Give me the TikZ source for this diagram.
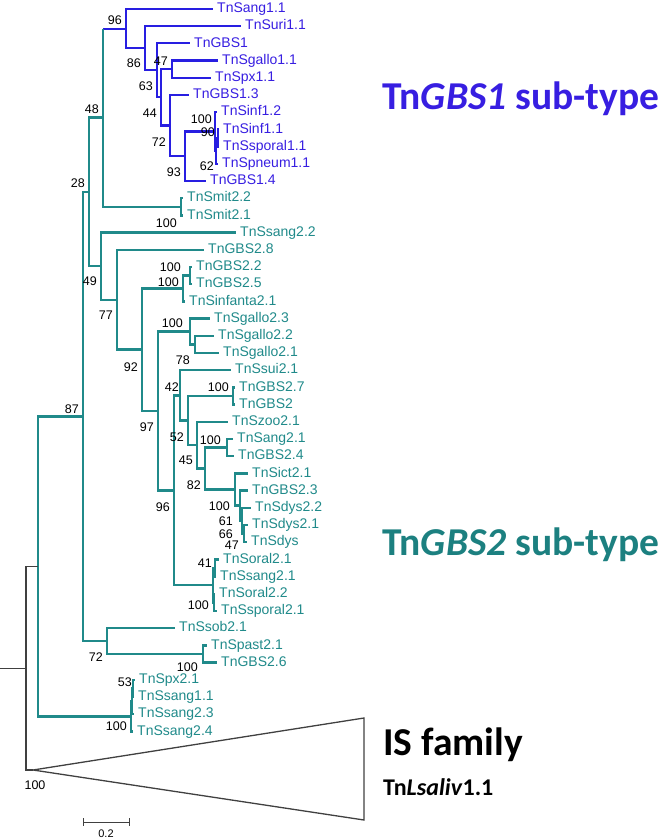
\documentclass[tikz,border=0pt]{standalone}
\usepackage{fontspec}
\setmainfont{Liberation Sans}
\newfontfamily\calib{Carlito}
\usetikzlibrary{calc}
\definecolor{tealc}{RGB}{32,138,138}
\definecolor{tealh}{RGB}{28,128,128}
\definecolor{bluec}{RGB}{40,30,225}
\definecolor{bluet}{RGB}{55,30,225}
\begin{document}
\begin{tikzpicture}[x=1pt,y=-1pt,
  tb/.style={draw=tealc,line width=2.5pt},
  bb/.style={draw=bluec,line width=2.2pt},
  kb/.style={draw=black!75,line width=1.3pt},
  lt/.style={anchor=west,inner xsep=4pt,inner ysep=0pt,text height=10pt,text depth=2.5pt,font=\fontsize{14}{14}\selectfont,text=tealc},
  lb/.style={lt,text=bluet},
  bs/.style={font=\fontsize{12.5}{12.5}\selectfont,inner sep=0pt,anchor=east,text height=9pt,text depth=0pt},
  head/.style={anchor=base west,inner sep=0pt,font=\calib\bfseries\fontsize{39.5}{40}\selectfont}
]
\useasboundingbox (0,0) rectangle (666,840);
% ---------- leaves ----------
\node[lb] (l1) at (213,9) {TnSang1.1};
\node[lb] (l2) at (241,26.2) {TnSuri1.1};
\node[lb] (l3) at (190,43.4) {TnGBS1};
\node[lb] (l4) at (218,60.6) {TnSgallo1.1};
\node[lb] (l5) at (211,77.8) {TnSpx1.1};
\node[lb] (l6) at (189,95) {TnGBS1.3};
\node[lb] (l7) at (217,112.2) {TnSinf1.2};
\node[lb] (l8) at (219,129.4) {TnSinf1.1};
\node[lb] (l9) at (219,146.6) {TnSsporal1.1};
\node[lb] (l10) at (218,163.8) {TnSpneum1.1};
\node[lb] (l11) at (206,181) {TnGBS1.4};
\node[lt] (l12) at (183,198.2) {TnSmit2.2};
\node[lt] (l13) at (183,215.4) {TnSmit2.1};
\node[lt] (l14) at (236,232.6) {TnSsang2.2};
\node[lt] (l15) at (204,249.8) {TnGBS2.8};
\node[lt] (l16) at (192,267) {TnGBS2.2};
\node[lt] (l17) at (192,284.2) {TnGBS2.5};
\node[lt] (l18) at (185,301.4) {TnSinfanta2.1};
\node[lt] (l19) at (210,318.6) {TnSgallo2.3};
\node[lt] (l20) at (214,335.8) {TnSgallo2.2};
\node[lt] (l21) at (219,353) {TnSgallo2.1};
\node[lt] (l22) at (231,370.2) {TnSsui2.1};
\node[lt] (l23) at (235,387.4) {TnGBS2.7};
\node[lt] (l24) at (235,404.6) {TnGBS2};
\node[lt] (l25) at (228,421.8) {TnSzoo2.1};
\node[lt] (l26) at (233,439) {TnSang2.1};
\node[lt] (l27) at (234,456.2) {TnGBS2.4};
\node[lt] (l28) at (248,473.4) {TnSict2.1};
\node[lt] (l29) at (248,490.6) {TnGBS2.3};
\node[lt] (l30) at (251,507.8) {TnSdys2.2};
\node[lt] (l31) at (248,525) {TnSdys2.1};
\node[lt] (l32) at (247,542.2) {TnSdys};
\node[lt] (l33) at (219,559.4) {TnSoral2.1};
\node[lt] (l34) at (216,576.6) {TnSsang2.1};
\node[lt] (l35) at (215,593.8) {TnSoral2.2};
\node[lt] (l36) at (217,611) {TnSsporal2.1};
\node[lt] (l37) at (175,628.2) {TnSsob2.1};
\node[lt] (l38) at (207,645.4) {TnSpast2.1};
\node[lt] (l39) at (217,662.6) {TnGBS2.6};
\node[lt] (l40) at (135,679.8) {TnSpx2.1};
\node[lt] (l41) at (134,697) {TnSsang1.1};
\node[lt] (l42) at (134,714.2) {TnSsang2.3};
\node[lt] (l43) at (133,731.4) {TnSsang2.4};
% ---------- internal nodes ----------
\coordinate (J) at (218,138);
\coordinate (I) at (216,150.9);
\coordinate (H) at (215,131.6);
\coordinate (G) at (185,156.3);
\coordinate (F) at (170,125.6);
\coordinate (E) at (172,69.2);
\coordinate (D) at (161,97.4);
\coordinate (C) at (157,70.4);
\coordinate (B) at (145,48.3);
\coordinate (A) at (126,28.7);
\coordinate (N48) at (103,117.7);
\coordinate (Nsm) at (181,206.8);
\coordinate (N28) at (89,192);
\coordinate (N49) at (101,266.2);
\coordinate (N77) at (117,299.8);
\coordinate (N92) at (142,349.7);
\coordinate (K) at (183,288.5);
\coordinate (L) at (190,275.6);
\coordinate (R) at (158,410.9);
\coordinate (P) at (190,331.5);
\coordinate (Q) at (195,344.4);
\coordinate (S) at (174,490.3);
\coordinate (T) at (180,395.4);
\coordinate (T2) at (188,420.6);
\coordinate (Gp) at (233,396);
\coordinate (T3) at (197,445.2);
\coordinate (T4) at (205,468.6);
\coordinate (Sp) at (227,447.6);
\coordinate (T5) at (235,489.5);
\coordinate (T6) at (240,505.7);
\coordinate (T7) at (242,520.7);
\coordinate (T8) at (244,533.6);
\coordinate (U) at (213,585.2);
\coordinate (U1) at (215,568);
\coordinate (U2) at (214,602.4);
\coordinate (N87) at (83,416.5);
\coordinate (Z) at (107,641.1);
\coordinate (Y) at (203,654);
\coordinate (M0) at (38,566.4);
\coordinate (V) at (131,716.4);
\coordinate (V1) at (132,701.3);
\coordinate (V11) at (133,688.4);
\coordinate (Rt) at (26,668.2);
\coordinate (Ap) at (33,770);
\coordinate (st) at (0,668.2);
\coordinate (tr1) at (364,718);
\coordinate (tr2) at (364,820);
% ---------- blue branches ----------
\foreach \p/\c in {A/l1.west,A/B,B/l2.west,B/C,C/l3.west,C/D,D/E,D/F,E/l4.west,E/l5.west,
  F/l6.west,F/G,G/H,G/l11.west,H/l7.west,H/I,I/J,I/l10.west,J/l8.west,J/l9.west}
  \draw[bb] (\p) |- (\c);
\draw[bb] (N48 |- A) -- (A);
% ---------- teal branches ----------
\draw[tb] (N48) -- (N48 |- A);
\foreach \p/\c in {N48/Nsm,Nsm/l12.west,Nsm/l13.west,N28/N48,N28/N49,N49/l14.west,N49/N77,
  N77/l15.west,N77/N92,N92/K,N92/R,K/L,K/l18.west,L/l16.west,L/l17.west,R/P,R/S,
  P/l19.west,P/Q,Q/l20.west,Q/l21.west,S/T,S/U,T/l22.west,T/T2,T2/Gp,T2/T3,
  Gp/l23.west,Gp/l24.west,T3/l25.west,T3/T4,T4/Sp,T4/T5,Sp/l26.west,Sp/l27.west,
  T5/l28.west,T5/T6,T6/l29.west,T6/T7,T7/l30.west,T7/T8,T8/l31.west,T8/l32.west,
  U/U1,U/U2,U1/l33.west,U1/l34.west,U2/l35.west,U2/l36.west,
  N87/N28,N87/Z,Z/l37.west,Z/Y,Y/l38.west,Y/l39.west,
  M0/N87,M0/V,V/V1,V/l43.west,V1/V11,V1/l42.west,V11/l40.west,V11/l41.west}
  \draw[tb] (\p) |- (\c);
% ---------- root and collapsed IS family ----------
\draw[kb] (Rt) |- (M0);
\draw[kb] (Rt) |- (Ap);
\draw[kb] (st) -- (Rt);
\draw[kb] (Ap) -- (tr1) -- (tr2) -- cycle;
% ---------- bootstrap values ----------
\node[bs] (bA) at ($(A)+(-4,-9)$) {96};
\node[bs] (bB) at ($(B)+(-4,15)$) {86};
\node[bs] (bC) at ($(C)+(-4,16)$) {63};
\node[bs] (bE) at ($(E)+(-4,-8)$) {47};
\node[bs] (bD) at ($(D)+(-4,16)$) {44};
\node[bs] (bF) at ($(F)+(-4,16)$) {72};
\node[bs] (bG) at ($(G)+(-4,16)$) {93};
\node[bs] (bH) at ($(H)+(-3,-13)$) {100};
\node[bs] (bJ) at ($(J)+(-3,-6)$) {90};
\node[bs] (bI) at ($(I)+(-2,15)$) {62};
\node[bs] (bsm) at ($(Nsm)+(-4,16)$) {100};
\node[bs] (b48) at ($(N48)+(-4,-9)$) {48};
\node[bs] (b28) at ($(N28)+(-4,-9)$) {28};
\node[bs] (b49) at ($(N49)+(-4,15)$) {49};
\node[bs] (b77) at ($(N77)+(-4,15)$) {77};
\node[bs] (b92) at ($(N92)+(-4,17)$) {92};
\node[bs] (b87) at ($(N87)+(-4,-8)$) {87};
\node[bs] (bR) at ($(R)+(-4,16)$) {97};
\node[bs] (bS) at ($(S)+(-4,17)$) {96};
\node[bs] (bT) at ($(T)+(-1,-8)$) {42};
\node[bs] (bT2) at ($(T2)+(-4,16)$) {52};
\node[bs] (bT3) at ($(T3)+(-4,15)$) {45};
\node[bs] (bT4) at ($(T4)+(-4,16)$) {82};
\node[bs] (bGp) at ($(Gp)+(-4,-9)$) {100};
\node[bs] (bSp) at ($(Sp)+(-6,-8)$) {100};
\node[bs] (bT5) at ($(T5)+(-5,16)$) {100};
\node[bs] (bT6) at ($(T6)+(-7,15)$) {61};
\node[bs] (bT7) at ($(T7)+(-9,13)$) {66};
\node[bs] (bT8) at ($(T8)+(-5,11)$) {47};
\node[bs] (bU1) at ($(U1)+(-3,-5)$) {41};
\node[bs] (bU) at ($(U)+(-4,20)$) {100};
\node[bs] (bK) at ($(K)+(-4,-7)$) {100};
\node[bs] (bL) at ($(L)+(-9,-9)$) {100};
\node[bs] (bP) at ($(P)+(-7,-9)$) {100};
\node[bs] (bQ) at ($(Q)+(-5,16)$) {78};
\node[bs] (bZ) at ($(Z)+(-4,16)$) {72};
\node[bs] (bY) at ($(Y)+(-5,13)$) {100};
\node[bs] (bV11) at ($(V11)+(-1,-6)$) {53};
\node[bs] (bV) at ($(V)+(-4,10)$) {100};
\node[bs,anchor=center] (bRt) at ($(Ap)+(2,15)$) {100};
% ---------- scale bar ----------
\coordinate (sb1) at (83,822);
\coordinate (sb2) at (129,822);
\draw[kb,line width=1pt] (sb1) -- (sb2);
\draw[kb,line width=1pt] ($(sb1)+(0,-4)$) -- ($(sb1)+(0,4)$);
\draw[kb,line width=1pt] ($(sb2)+(0,-4)$) -- ($(sb2)+(0,4)$);
\node[font=\fontsize{11}{11}\selectfont,inner sep=0pt] (sbl) at (106,834) {0.2};
% ---------- headings ----------
\node[head,text=bluet] (h1) at (382,110) {Tn\textit{GBS1} sub-type};
\node[head,text=tealh] (h2) at (382,555) {Tn\textit{GBS2} sub-type};
\node[head] (isf) at (383,755) {IS family};
\node[anchor=base west,inner sep=0pt,font=\calib\bfseries\fontsize{24}{24}\selectfont] (lsal) at (383,795) {Tn\textit{Lsaliv}1.1};
\end{tikzpicture}
\end{document}
